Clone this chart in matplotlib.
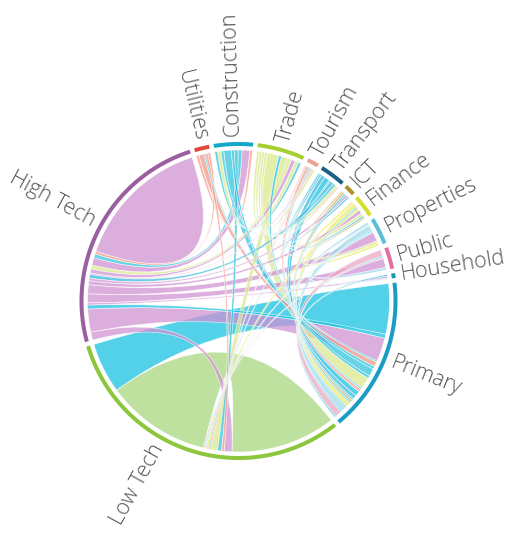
import numpy as np
import matplotlib.pyplot as plt
from matplotlib.path import Path
from matplotlib.patches import PathPatch, Polygon

# sectors, clockwise starting from High Tech
sectors = ["High Tech", "Utilities", "Construction", "Trade", "Tourism", "Transport",
           "ICT", "Finance", "Properties", "Public", "Household", "Primary", "Low Tech"]
arc_colors = ["#9b5fa0", "#e04a3c", "#14a8c8", "#a6cf32", "#f0a090", "#1b6282",
              "#b0902a", "#d6de2e", "#58c0d8", "#e070a0", "#1598b8", "#1a9cc4", "#8cc63c"]
chord_colors = ["#cf8fd2", "#f59484", "#2cc2dc", "#d9e88a", "#f5a08e", "#34b8d8",
                "#d0b060", "#ecec6a", "#9cd8ea", "#eca4c0", "#30c0dc", "#10c0e0", "#a6d67a"]

# flows between sectors (source -> target, width)
link_src = ["High Tech", "Low Tech", "Primary", "High Tech", "Trade", "Construction",
            "Utilities", "Finance", "Properties", "Public", "Tourism", "Transport",
            "High Tech", "Primary", "High Tech", "Construction", "High Tech", "Trade",
            "High Tech", "High Tech", "High Tech", "Transport", "High Tech", "Utilities",
            "High Tech", "High Tech",
            "Utilities", "Utilities", "Primary", "Construction", "Primary", "Trade",
            "Construction", "Construction", "Trade", "Primary", "Trade", "Trade", "Trade",
            "Trade", "Tourism", "Primary", "Tourism", "Primary", "Transport", "Transport",
            "Transport", "ICT", "ICT", "Primary", "Finance", "Primary", "Finance",
            "Properties", "Properties", "Primary", "Properties", "Public", "Primary",
            "Household"]
link_dst = ["High Tech", "Low Tech", "Low Tech", "Low Tech", "Low Tech", "Low Tech",
            "Low Tech", "Low Tech", "Low Tech", "Low Tech", "Low Tech", "Low Tech",
            "Primary", "High Tech", "Construction", "High Tech", "Trade", "High Tech",
            "Properties", "Public", "Finance", "High Tech", "ICT", "High Tech",
            "Household", "Tourism",
            "Primary", "Construction", "Utilities", "Primary", "Construction", "Construction",
            "Trade", "Transport", "Primary", "Trade", "Tourism", "Finance", "Transport",
            "Properties", "Primary", "Tourism", "Transport", "Transport", "Primary", "Finance",
            "ICT", "Primary", "Finance", "ICT", "Primary", "Finance", "Properties",
            "Primary", "Public", "Properties", "Household", "Primary", "Public",
            "Primary"]
link_val = [26.5, 40.5, 19.5, 3, 2.5, 1.5,
            1, 1, 0.5, 0.5, 0.5, 0.5,
            9, 1.5, 3, 1.5, 1.5, 1.5,
            3.5, 3.5, 1.5, 1.5, 1, 1,
            0.8, 0.5,
            2, 1, 0.5, 3, 1, 1.4,
            1, 1, 4.5, 1, 1, 1.1, 1,
            1, 1.2, 0.5, 0.5, 2, 1.5, 0.7,
            0.7, 1, 0.6, 0.6, 1.8, 0.5, 1,
            2, 1, 0.5, 0.4, 2.5, 0.5,
            0.6]

# layout
cx, cy = 238.5, 301
r_chord, r_in, r_out = 151, 155, 159
gap = 1.7
start = 255.0
n = len(sectors)
idx = {s: i for i, s in enumerate(sectors)}
# ordering of link ends inside a sector: +1 near partners first, -1 far partners first
order_sign = {"High Tech": -1}
# where the two ends of a self-flow sit among the other ends of the sector
self_keys = {"High Tech": (0.5, 0.6), "Low Tech": (-1, 11.5)}

totals = np.zeros(n)
for s, d, v in zip(link_src, link_dst, link_val):
    totals[idx[s]] += v
    totals[idx[d]] += v
scale = (360 - n * gap) / totals.sum()

sec_start = np.zeros(n)
pos = start
for i in range(n):
    sec_start[i] = pos
    pos += totals[i] * scale + gap

ends = {i: [] for i in range(n)}
for k, (s, d, v) in enumerate(zip(link_src, link_dst, link_val)):
    a, b = idx[s], idx[d]
    if a != b:
        ends[a].append((order_sign.get(s, 1) * ((b - a) % n), 0, k, "src"))
        ends[b].append((order_sign.get(d, 1) * ((a - b) % n), 1, k, "dst"))
    else:
        ka, kb = self_keys[s]
        ends[a].append((ka, 0, k, "src"))
        ends[a].append((kb, 1, k, "dst"))

span = {}
for i in range(n):
    ends[i].sort(key=lambda e: (e[0], e[1]))
    p = sec_start[i]
    for rel, role, k, which in ends[i]:
        w = link_val[k] * scale
        span[(k, which)] = (p, p + w)
        p += w


def pt(theta, r):
    t = np.radians(theta)
    return cx + r * np.sin(t), cy - r * np.cos(t)


def arc(t1, t2, r):
    m = max(int(abs(t2 - t1) * 2) + 2, 3)
    th = np.radians(np.linspace(t1, t2, m))
    return np.column_stack([cx + r * np.sin(th), cy - r * np.cos(th)])


fig = plt.figure(figsize=(5.12, 5.33), dpi=100)
ax = fig.add_axes([0, 0, 1, 1])
ax.set_xlim(0, 512)
ax.set_ylim(533, 0)
ax.axis("off")

# chords, widest first
for k in np.argsort(link_val, kind="stable")[::-1]:
    s1, s2 = span[(k, "src")]
    t1, t2 = span[(k, "dst")]
    a1 = arc(s1, s2, r_chord)
    a2 = arc(t1, t2, r_chord)
    verts = list(a1)
    codes = [Path.MOVETO] + [Path.LINETO] * (len(a1) - 1)
    if abs(t1 - s2) < 1e-9:
        verts += list(a2[1:])
        codes += [Path.LINETO] * (len(a2) - 1)
    else:
        verts += [(cx, cy), a2[0]] + list(a2[1:])
        codes += [Path.CURVE3, Path.CURVE3] + [Path.LINETO] * (len(a2) - 1)
    verts += [(cx, cy), a1[0], a1[0]]
    codes += [Path.CURVE3, Path.CURVE3, Path.CLOSEPOLY]
    col = chord_colors[idx[link_src[k]]]
    ax.add_patch(PathPatch(Path(verts, codes), facecolor=col, alpha=0.72,
                           edgecolor="white", lw=0.5))

# outer ring and labels
for i, name in enumerate(sectors):
    t1 = sec_start[i]
    t2 = t1 + totals[i] * scale
    ring = np.vstack([arc(t1, t2, r_out), arc(t2, t1, r_in)])
    ax.add_patch(Polygon(ring, closed=True, facecolor=arc_colors[i], edgecolor="none"))

    mid = (t1 + t2) / 2
    if name == "Low Tech":
        mid += 11
    x, y = pt(mid, 165)
    ang = 90 - mid
    ang = (ang + 180) % 360 - 180
    if -90 <= ang <= 96:
        ax.text(x, y, name, rotation=ang, ha="left", va="center", rotation_mode="anchor",
                fontsize=15.5, color="#555555", family="Open Sans", fontweight="light")
    else:
        ax.text(x, y, name, rotation=ang - 180, ha="right", va="center", rotation_mode="anchor",
                fontsize=15.5, color="#555555", family="Open Sans", fontweight="light")

plt.savefig("out.png", dpi=100)
